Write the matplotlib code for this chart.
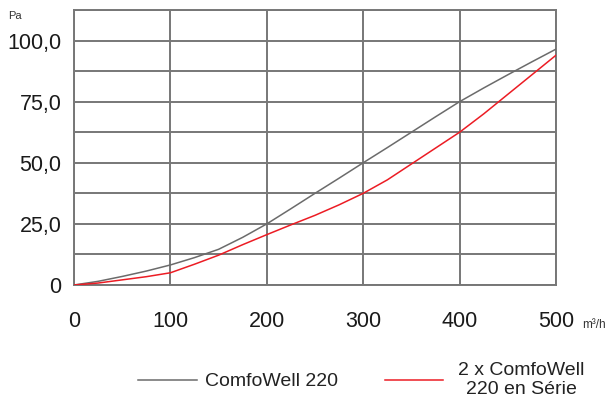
import numpy as np
import matplotlib.pyplot as plt
from matplotlib.lines import Line2D

plt.rcParams['font.family'] = ['Liberation Sans', 'DejaVu Sans']

# airflow (m3/h) and pressure (Pa)
flow = [0, 25, 50, 75, 100, 125, 150, 175, 200, 225, 250,
        275, 300, 325, 350, 375, 400, 425, 450, 475, 500]
single = [0, 1.5, 3.5, 5.7, 8.2, 11.2, 14.6, 19.5, 25.0, 31.2, 37.5,
          43.7, 50.0, 56.2, 62.5, 68.8, 75.0, 80.6, 86.0, 91.3, 96.5]
series = [0, 0.8, 2.1, 3.4, 5.0, 8.5, 12.2, 16.5, 20.6, 24.6, 28.5,
          32.8, 37.5, 43.0, 49.5, 56.0, 62.5, 70.0, 78.0, 86.0, 94.0]

labels = ['ComfoWell 220', '2 x ComfoWell\n220 en Série']
colors = ['#6b6b6b', '#ec1c24']

y_ticks = [0, 25, 50, 75, 100]
y_ticklabels = ['0', '25,0', '50,0', '75,0', '100,0']
x_ticks = [0, 100, 200, 300, 400, 500]

grid_col = '#777777'
txt_col = '#1a1a1a'


def main():
    fig = plt.figure(figsize=(6.12, 4.03), dpi=100)
    ax = fig.add_axes([74 / 612, 1 - 285 / 403, 482 / 612, 275 / 403])

    ax.plot(flow, single, color=colors[0], lw=1.1, zorder=3)
    ax.plot(flow, series, color=colors[1], lw=1.1, zorder=3)

    ax.set_xlim(0, 500)
    ax.set_ylim(0, 112.5)

    # grid every 12.5 Pa and 100 m3/h
    for y in np.arange(0, 112.6, 12.5):
        ax.axhline(y, color=grid_col, lw=1.4, zorder=1)
    for x in x_ticks:
        ax.axvline(x, color=grid_col, lw=1.4, zorder=1)
    for s in ax.spines.values():
        s.set_color(grid_col)
        s.set_linewidth(1.4)

    ax.set_yticks(y_ticks)
    ax.set_yticklabels(y_ticklabels)
    ax.set_xticks(x_ticks)
    ax.tick_params(axis='y', length=0, pad=9, labelsize=15.5, labelcolor=txt_col)
    ax.tick_params(axis='x', length=0, pad=19, labelsize=15.5, labelcolor=txt_col)

    fig.text(8 / 612, 1 - 16 / 403, 'Pa', fontsize=8, color='#333333', va='center')
    fig.text(582 / 612, 1 - 328 / 403, 'm³/h', fontsize=8.5, color='#333333', va='baseline')

    # legend drawn by hand to match the layout
    fig.add_artist(Line2D([138 / 612, 197 / 612], [1 - 380 / 403] * 2,
                          color=colors[0], lw=1.1, transform=fig.transFigure))
    fig.text(205 / 612, 1 - 386.5 / 403, labels[0], fontsize=14, color='#222222',
             va='baseline')
    fig.add_artist(Line2D([385 / 612, 443 / 612], [1 - 380 / 403] * 2,
                          color=colors[1], lw=1.1, transform=fig.transFigure))
    fig.text(521 / 612, 1 - 380 / 403, labels[1], fontsize=14, color='#222222',
             va='center', ha='center', multialignment='center', linespacing=1.15)

    fig.savefig('out.png', dpi=100)


if __name__ == "__main__":
    main()
